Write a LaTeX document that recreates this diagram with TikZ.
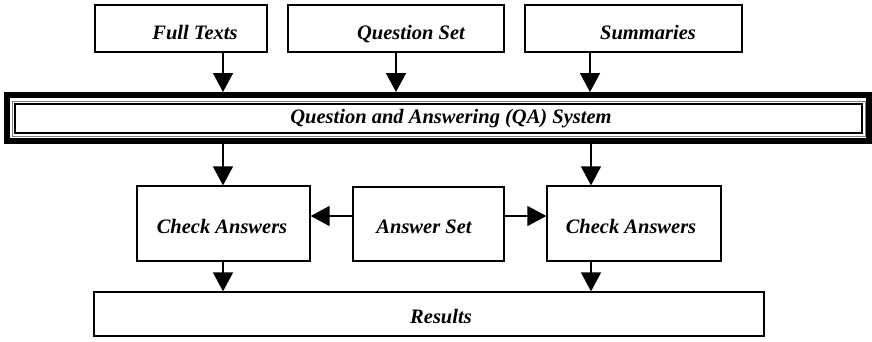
\documentclass[tikz,border=0pt]{standalone}
\usepackage{fontspec}
\setmainfont{Liberation Serif}
\usetikzlibrary{arrows.meta}
\begin{document}
\begin{tikzpicture}[x=1pt,y=-1pt,
  box/.style={draw, line width=1.3pt, rectangle, inner sep=0pt},
  lbl/.style={anchor=base, inner sep=0pt, font=\fontsize{20.5}{24}\selectfont\bfseries\itshape},
  arr/.style={line width=1.5pt, -{Triangle[width=20pt,length=19pt]}}]
\useasboundingbox (0,0) rectangle (872,341);
% top boxes
\node[box, minimum width=172pt, minimum height=47pt] (ft) at (181,28.5) {};
\node[box, minimum width=216pt, minimum height=47pt] (qs) at (396,28.5) {};
\node[box, minimum width=217pt, minimum height=47pt] (sm) at (633.5,28.5) {};
\node[lbl] (ftt) at (195,39) {Full Texts};
\node[lbl] (qst) at (411,39) {Question Set};
\node[lbl] (smt) at (648,39) {Summaries};
% QA system box
\node[draw, rectangle, line width=6pt, minimum width=862pt, minimum height=46pt, inner sep=0pt] (qa) at (438,118) {};
\draw[gray, line width=0.8pt] ([shift={(8,9)}]qa.north west) rectangle ([shift={(-7,-8)}]qa.south east);
\draw[line width=2pt] ([shift={(11,12)}]qa.north west) rectangle ([shift={(-10,-11)}]qa.south east);
\node[lbl] (qat) at (451,123) {Question and Answering (QA) System};
% middle boxes
\node[box, minimum width=173pt, minimum height=75pt] (ca1) at (223.5,223.5) {};
\node[box, minimum width=151pt, minimum height=74pt] (as) at (428.5,224) {};
\node[box, minimum width=174pt, minimum height=75pt] (ca2) at (634,223.5) {};
\node[lbl] (ca1t) at (222,233) {Check Answers};
\node[lbl] (ast) at (424,233) {Answer Set};
\node[lbl] (ca2t) at (631,233) {Check Answers};
% results
\node[box, minimum width=670pt, minimum height=44pt] (res) at (429,314) {};
\node[lbl] (rest) at (441,323) {Results};
% connector positions
\coordinate (xa) at (223,0);
\coordinate (xb) at (396,0);
\coordinate (xc) at (590,0);
\coordinate (xd) at (591,0);
\coordinate (yh) at (0,216);
% connectors
\draw[arr] (ft.south -| xa) -- (qa.north -| xa);
\draw[arr] (qs.south -| xb) -- (qa.north -| xb);
\draw[arr] (sm.south -| xc) -- (qa.north -| xc);
\draw[arr] (qa.south -| xa) -- (ca1.north -| xa);
\draw[arr] (qa.south -| xd) -- (ca2.north -| xd);
\draw[arr] (as.west |- yh) -- (ca1.east |- yh);
\draw[arr] (as.east |- yh) -- (ca2.west |- yh);
\draw[arr] (ca1.south -| xa) -- (res.north -| xa);
\draw[arr] (ca2.south -| xd) -- (res.north -| xd);
\end{tikzpicture}
\end{document}
